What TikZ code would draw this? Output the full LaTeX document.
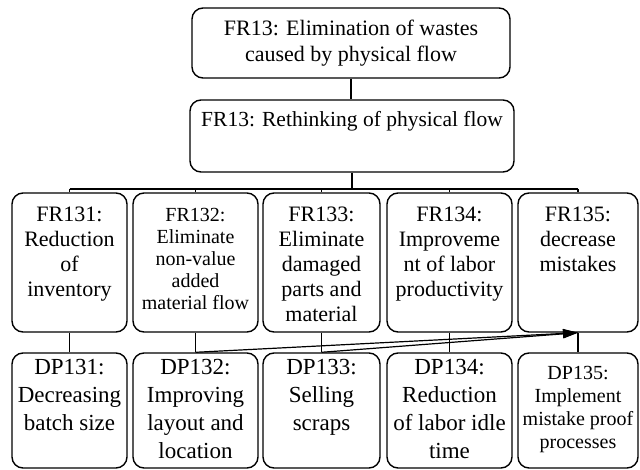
\documentclass[tikz,border=0pt]{standalone}
\usepackage{fontspec}
\setmainfont{Liberation Serif}
\usetikzlibrary{positioning,arrows.meta}
\begin{document}
\begin{tikzpicture}[
  x=1pt, y=-1pt,
  line join=round,
  box/.style={draw, line width=1.4pt, rounded corners=11pt, inner sep=0pt},
  link/.style={line width=1.2pt},
  frtext/.style={inner sep=0pt, align=center, font=\fontsize{22}{25}\selectfont},
  smalltext/.style={inner sep=0pt, align=center, font=\fontsize{20}{22}\selectfont},
  dptext/.style={inner sep=0pt, align=center, font=\fontsize{23}{28}\selectfont},
  arrowtip/.style={-{Triangle[length=15pt, width=9pt]}},
]
\useasboundingbox (0,0) rectangle (640,470);

% ── the two boxes on top ──────────────────────────────────────────────────
\node[box, minimum width=318pt, minimum height=70pt, font=\fontsize{22}{26}\selectfont, align=center]
  (top) at (351,43) {FR13: Elimination of wastes\\caused by physical flow};
\node[box, minimum width=324pt, minimum height=72pt] (fr13) at (352,136) {};
\node[frtext, font=\fontsize{21.5}{25}\selectfont, below=12pt of fr13.north] (fr13t)
  {FR13: Rethinking of physical flow};

% ── the two rows of boxes ─────────────────────────────────────────────────
\foreach \n/\x/\w in {131/69.5/115pt, 132/195.5/125pt, 133/321.5/117pt, 134/449.5/125pt, 135/578/120pt} {
  \node[box, minimum width=\w, minimum height=139pt] (fr\n) at (\x,262.5) {};
  \node[box, minimum width=\w, minimum height=115pt] (dp\n) at (\x,410.5) {};
}

% ── their texts, set from the top ─────────────────────────────────────────
\node[frtext, below=14pt of fr131.north] (fr131t) {FR131:\\Reduction\\of\\inventory};
\node[smalltext, below=16pt of fr132.north] (fr132t) {FR132:\\Eliminate\\non-value\\added\\material flow};
\node[frtext, below=14pt of fr133.north] (fr133t) {FR133:\\Eliminate\\damaged\\parts and\\material};
\node[frtext, below=14pt of fr134.north] (fr134t) {FR134:\\Improveme\\nt of labor\\productivity};
\node[frtext, below=14pt of fr135.north] (fr135t) {FR135:\\decrease\\mistakes};

\node[dptext, below=7pt of dp131.north] (dp131t) {DP131:\\Decreasing\\batch size};
\node[dptext, below=7pt of dp132.north] (dp132t) {DP132:\\Improving\\layout and\\location};
\node[dptext, below=7pt of dp133.north] (dp133t) {DP133:\\Selling\\scraps};
\node[dptext, below=7pt of dp134.north] (dp134t) {DP134:\\Reduction\\of labor idle\\time};
\node[inner sep=0pt, align=center, font=\fontsize{20}{23}\selectfont, below=14pt of dp135.north] (dp135t)
  {DP135:\\Implement\\mistake proof\\processes};

% ── the links ─────────────────────────────────────────────────────────────
\draw[link] (top.south) -- (top.south |- fr13.north);
\coordinate (bus) at (352,189);
\draw[link] (fr13.south) -- (bus);
\draw[link] (bus -| fr131.north) -- (bus -| fr135.north);
\foreach \n in {131,...,135} {
  \draw[link] (bus -| fr\n.north) -- (fr\n.north);
  \draw[link] (fr\n.south) -- (dp\n.north);
}

% ── the two arrows into FR135 ─────────────────────────────────────────────
\draw[link, arrowtip] (dp132.north) -- (fr135.south);
\draw[link, arrowtip] (dp133.north) -- (fr135.south);

\end{tikzpicture}
\end{document}
